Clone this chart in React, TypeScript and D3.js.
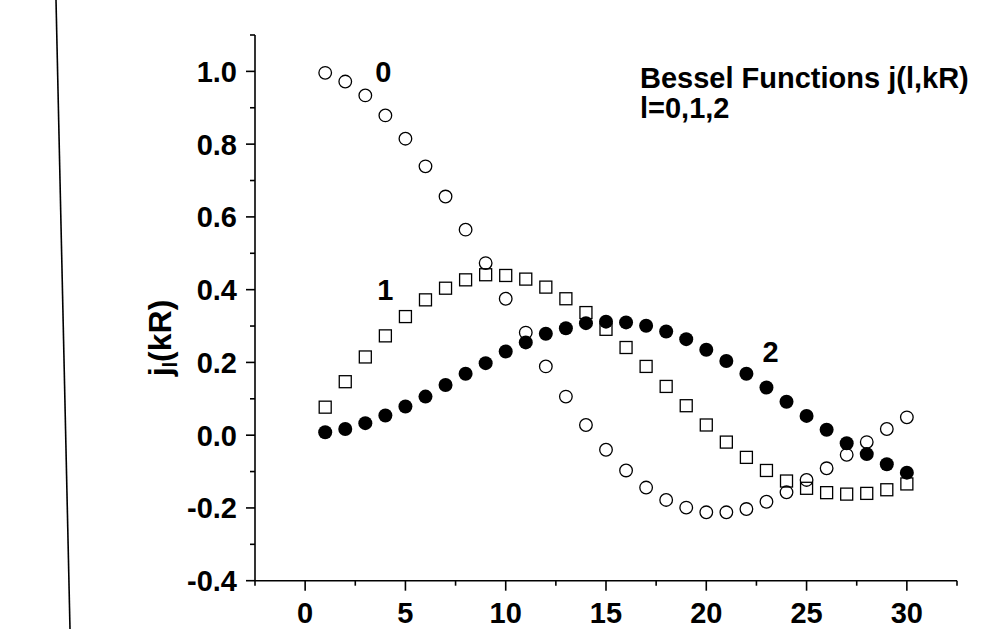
import React from "react";
import * as d3 from "d3";

const kR = [1,2,3,4,5,6,7,8,9,10,11,12,13,14,15,16,17,18,19,20,21,22,23,24,25,26,27,28,29,30];
const j0 = [0.996,0.972,0.934,0.879,0.815,0.739,0.656,0.565,0.473,0.375,0.282,0.189,0.106,0.028,-0.040,-0.097,-0.144,-0.178,-0.199,-0.212,-0.212,-0.203,-0.183,-0.157,-0.123,-0.091,-0.054,-0.019,0.017,0.049];
const j1 = [0.077,0.147,0.215,0.273,0.326,0.372,0.404,0.427,0.441,0.439,0.429,0.407,0.375,0.337,0.291,0.241,0.189,0.134,0.081,0.028,-0.019,-0.061,-0.097,-0.126,-0.146,-0.158,-0.162,-0.160,-0.150,-0.134];
const j2 = [0.008,0.017,0.033,0.054,0.079,0.106,0.138,0.169,0.198,0.230,0.255,0.279,0.294,0.308,0.312,0.310,0.301,0.285,0.264,0.235,0.204,0.169,0.131,0.092,0.053,0.015,-0.022,-0.052,-0.080,-0.103];
const xTicks = [0,5,10,15,20,25,30];
const xMinor = [-2.5,2.5,7.5,12.5,17.5,22.5,27.5,32.5];
const yTicks = [-0.4,-0.2,0.0,0.2,0.4,0.6,0.8,1.0];
const yMinor = [-0.3,-0.1,0.1,0.3,0.5,0.7,0.9,1.1];
const curveLabels = [
  { text: "0", x: 3.9, y: 1.0 },
  { text: "1", x: 4.0, y: 0.4 },
  { text: "2", x: 23.2, y: 0.23 },
];

const FONT = "'Liberation Sans', Arial, sans-serif";

export default function App() {
  const W = 995, H = 629;
  const x = d3.scaleLinear().domain([-2.5, 32.5]).range([255, 957]);
  const y = d3.scaleLinear().domain([-0.4, 1.1]).range([580.7, 35]);
  const fs = 29;
  return (
    <svg width={W} height={H} style={{ position: "absolute", left: 0, top: 0, background: "#fff" }}>
      <rect width={W} height={H} fill="#fff" />
      <line x1={56} y1={0} x2={70} y2={629} stroke="#000" strokeWidth={1.6} />
      <line x1={x(-2.5)} y1={y(-0.4)} x2={x(32.5)} y2={y(-0.4)} stroke="#000" strokeWidth={1.6} />
      <line x1={x(-2.5)} y1={y(-0.4)} x2={x(-2.5)} y2={y(1.1)} stroke="#000" strokeWidth={1.6} />
      {xTicks.map((t) => (
        <g key={"xt" + t}>
          <line x1={x(t)} x2={x(t)} y1={y(-0.4)} y2={y(-0.4) + 10} stroke="#000" strokeWidth={1.6} />
          <text x={x(t)} y={622.5} textAnchor="middle" fontFamily={FONT} fontWeight="bold" fontSize={fs}>{t}</text>
        </g>
      ))}
      {xMinor.map((t) => (
        <line key={"xm" + t} x1={x(t)} x2={x(t)} y1={y(-0.4)} y2={y(-0.4) + 5} stroke="#000" strokeWidth={1.6} />
      ))}
      {yTicks.map((t) => (
        <g key={"yt" + t}>
          <line x1={x(-2.5) - 9} x2={x(-2.5)} y1={y(t)} y2={y(t)} stroke="#000" strokeWidth={1.6} />
          <text x={237} y={y(t) + 10.5} textAnchor="end" fontFamily={FONT} fontWeight="bold" fontSize={fs}>{t.toFixed(1)}</text>
        </g>
      ))}
      {yMinor.map((t) => (
        <line key={"ym" + t} x1={x(-2.5) - 5} x2={x(-2.5)} y1={y(t)} y2={y(t)} stroke="#000" strokeWidth={1.6} />
      ))}
      <text transform={`translate(171,${338}) rotate(-90)`} textAnchor="middle" fontFamily={FONT} fontWeight="bold" fontSize={32}>
        j<tspan fontSize={20} dy={6}>l</tspan><tspan dy={-6}>(kR)</tspan>
      </text>
      {kR.map((k, i) => (
        <circle key={"c" + k} cx={x(k)} cy={y(j0[i])} r={6.3} fill="none" stroke="#000" strokeWidth={1.3} />
      ))}
      {kR.map((k, i) => (
        <rect key={"s" + k} x={x(k) - 6} y={y(j1[i]) - 6} width={12} height={12} fill="none" stroke="#000" strokeWidth={1.3} />
      ))}
      {kR.map((k, i) => (
        <circle key={"f" + k} cx={x(k)} cy={y(j2[i])} r={7} fill="#000" />
      ))}
      {curveLabels.map((l) => (
        <text key={"l" + l.text} x={x(l.x)} y={y(l.y) + 10.5} textAnchor="middle" fontFamily={FONT} fontWeight="bold" fontSize={fs}>{l.text}</text>
      ))}
      <text x={640} y={88} fontFamily={FONT} fontWeight="bold" fontSize={fs}>Bessel Functions j(l,kR)</text>
      <text x={640} y={118} fontFamily={FONT} fontWeight="bold" fontSize={fs}>l=0,1,2</text>
    </svg>
  );
}
